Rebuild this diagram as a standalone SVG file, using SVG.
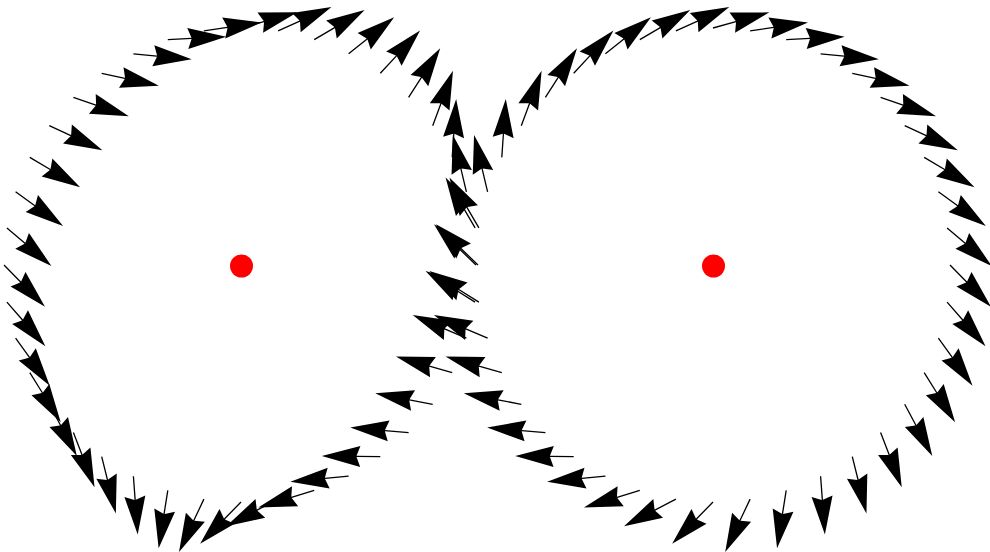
<svg xmlns="http://www.w3.org/2000/svg" width="990" height="552" viewBox="0 0 990 552">
<defs>
<path id="arr" d="M0,-0.65 H23.75 L20,-10.5 L58.5,0 L20,10.5 L23.75,0.65 H0 Z" fill="#000"/>
</defs>
<rect width="990" height="552" fill="#fff"/>
<g id="connectors">
<g id="left-arrows">
<use href="#arr" transform="translate(478 265) rotate(-135.9)"/>
<use href="#arr" transform="translate(475.1 302.1) rotate(-147.9)"/>
<use href="#arr" transform="translate(466.4 338.2) rotate(-156.7)"/>
<use href="#arr" transform="translate(452.2 372.6) rotate(-164)"/>
<use href="#arr" transform="translate(432.7 404.3) rotate(-169)"/>
<use href="#arr" transform="translate(408.6 432.6) rotate(-175.1)"/>
<use href="#arr" transform="translate(380.3 456.7) rotate(-179.3)"/>
<use href="#arr" transform="translate(348.6 476.2) rotate(174.5)"/>
<use href="#arr" transform="translate(314.2 490.4) rotate(162.9)"/>
<use href="#arr" transform="translate(278.1 499.1) rotate(152.4)"/>
<use href="#arr" transform="translate(241 502) rotate(134.3)"/>
<use href="#arr" transform="translate(203.9 499.1) rotate(115.2)"/>
<use href="#arr" transform="translate(167.8 490.4) rotate(99)"/>
<use href="#arr" transform="translate(133.4 476.2) rotate(85.8)"/>
<use href="#arr" transform="translate(101.7 456.7) rotate(76)"/>
<use href="#arr" transform="translate(73.4 432.6) rotate(68.8)"/>
<use href="#arr" transform="translate(49.3 404.3) rotate(61.9)"/>
<use href="#arr" transform="translate(29.8 372.6) rotate(58.1)"/>
<use href="#arr" transform="translate(15.6 338.2) rotate(54.3)"/>
<use href="#arr" transform="translate(6.9 302.1) rotate(48.9)"/>
<use href="#arr" transform="translate(4 265) rotate(45.5)"/>
<use href="#arr" transform="translate(6.9 227.9) rotate(40.5)"/>
<use href="#arr" transform="translate(15.6 191.8) rotate(35.8)"/>
<use href="#arr" transform="translate(29.8 157.4) rotate(30.6)"/>
<use href="#arr" transform="translate(49.3 125.7) rotate(24.8)"/>
<use href="#arr" transform="translate(73.4 97.4) rotate(18.8)"/>
<use href="#arr" transform="translate(101.7 73.3) rotate(12.3)"/>
<use href="#arr" transform="translate(133.4 53.8) rotate(5.4)"/>
<use href="#arr" transform="translate(167.8 39.6) rotate(-2.9)"/>
<use href="#arr" transform="translate(203.9 30.9) rotate(-8.3)"/>
<use href="#arr" transform="translate(241 28) rotate(-15.5)"/>
<use href="#arr" transform="translate(278.1 30.9) rotate(-24.2)"/>
<use href="#arr" transform="translate(314.2 39.6) rotate(-30.4)"/>
<use href="#arr" transform="translate(348.6 53.8) rotate(-38.8)"/>
<use href="#arr" transform="translate(380.3 73.3) rotate(-47.2)"/>
<use href="#arr" transform="translate(408.6 97.4) rotate(-57.3)"/>
<use href="#arr" transform="translate(432.7 125.7) rotate(-69.7)"/>
<use href="#arr" transform="translate(452.2 157.4) rotate(-86.1)"/>
<use href="#arr" transform="translate(466.4 191.8) rotate(-103.4)"/>
<use href="#arr" transform="translate(475.1 227.9) rotate(-120.3)"/>
</g>
<g id="right-arrows">
<use href="#arr" transform="translate(476 265) rotate(-135.9)"/>
<use href="#arr" transform="translate(478.9 302.1) rotate(-147.9)"/>
<use href="#arr" transform="translate(487.6 338.2) rotate(-156.7)"/>
<use href="#arr" transform="translate(501.8 372.6) rotate(-164)"/>
<use href="#arr" transform="translate(521.3 404.3) rotate(-169)"/>
<use href="#arr" transform="translate(545.4 432.6) rotate(-175.1)"/>
<use href="#arr" transform="translate(573.7 456.7) rotate(-179.3)"/>
<use href="#arr" transform="translate(605.4 476.2) rotate(174.5)"/>
<use href="#arr" transform="translate(639.8 490.4) rotate(162.9)"/>
<use href="#arr" transform="translate(675.9 499.1) rotate(152.4)"/>
<use href="#arr" transform="translate(713 502) rotate(134.3)"/>
<use href="#arr" transform="translate(750.1 499.1) rotate(115.2)"/>
<use href="#arr" transform="translate(786.2 490.4) rotate(99)"/>
<use href="#arr" transform="translate(820.6 476.2) rotate(85.8)"/>
<use href="#arr" transform="translate(852.3 456.7) rotate(76)"/>
<use href="#arr" transform="translate(880.6 432.6) rotate(68.8)"/>
<use href="#arr" transform="translate(904.7 404.3) rotate(61.9)"/>
<use href="#arr" transform="translate(924.2 372.6) rotate(58.1)"/>
<use href="#arr" transform="translate(938.4 338.2) rotate(54.3)"/>
<use href="#arr" transform="translate(947.1 302.1) rotate(48.9)"/>
<use href="#arr" transform="translate(950 265) rotate(45.5)"/>
<use href="#arr" transform="translate(947.1 227.9) rotate(40.5)"/>
<use href="#arr" transform="translate(938.4 191.8) rotate(35.8)"/>
<use href="#arr" transform="translate(924.2 157.4) rotate(30.6)"/>
<use href="#arr" transform="translate(904.7 125.7) rotate(24.8)"/>
<use href="#arr" transform="translate(880.6 97.4) rotate(18.8)"/>
<use href="#arr" transform="translate(852.3 73.3) rotate(12.3)"/>
<use href="#arr" transform="translate(820.6 53.8) rotate(5.4)"/>
<use href="#arr" transform="translate(786.2 39.6) rotate(-2.9)"/>
<use href="#arr" transform="translate(750.1 30.9) rotate(-8.3)"/>
<use href="#arr" transform="translate(713 28) rotate(-15.5)"/>
<use href="#arr" transform="translate(675.9 30.9) rotate(-24.2)"/>
<use href="#arr" transform="translate(639.8 39.6) rotate(-30.4)"/>
<use href="#arr" transform="translate(605.4 53.8) rotate(-38.8)"/>
<use href="#arr" transform="translate(573.7 73.3) rotate(-47.2)"/>
<use href="#arr" transform="translate(545.4 97.4) rotate(-57.3)"/>
<use href="#arr" transform="translate(521.3 125.7) rotate(-69.7)"/>
<use href="#arr" transform="translate(501.8 157.4) rotate(-86.1)"/>
<use href="#arr" transform="translate(487.6 191.8) rotate(-103.4)"/>
<use href="#arr" transform="translate(478.9 227.9) rotate(-120.3)"/>
</g>
</g>
<g id="center-left"><circle cx="241.5" cy="266" r="11.5" fill="#ff0000"/></g>
<g id="center-right"><circle cx="713.5" cy="266" r="11.5" fill="#ff0000"/></g>
</svg>
